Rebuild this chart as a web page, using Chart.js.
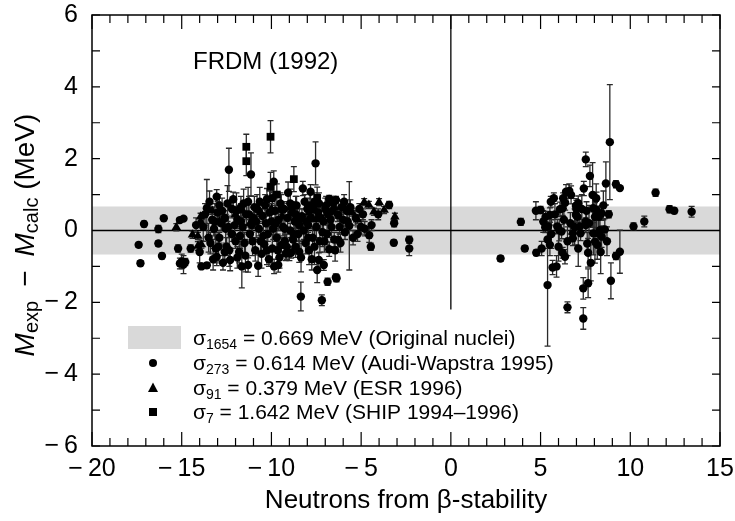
<!DOCTYPE html>
<html>
<head>
<meta charset="utf-8">
<script src="https://cdn.jsdelivr.net/npm/chart.js@4"></script>
<style>
  body { margin: 0; background: #fff; }
</style>
</head>
<body>
<canvas id="myChart" width="735" height="521"></canvas>
<script>
// [neutrons from beta-stability, Mexp - Mcalc (MeV), error]
var awPoints = [
  [-17.1, 0.18, 0.08], [-17.4, -0.40, 0.07], [-17.3, -0.91, 0.07], [-16.0, 0.34, 0.06], [-16.3, 0.04, 0.1],
  [-16.3, -0.36, 0.08], [-16.1, -0.71, 0.08], [-15.1, 0.29, 0.06], [-14.9, 0.33, 0.05], [-15.2, -0.5, 0.1],
  [-15.0, -0.86, 0.2], [-14.9, -0.95, 0.25], [-15.1, -0.92, 0.15], [-14.8, -0.88, 0.1], [-14.5, -0.5, 0.1],
  [-13.9, -1.0, 0.06], [-13.6, -0.97, 0.06], [-13.6, 0.62, 0.8], [-13.3, 0.3, 0.35], [-13.2, 0.05, 0.2],
  [-13.05, 0.94, 0.2], [-13.05, -0.73, 0.25], [-13.0, 0.5, 0.3], [-12.9, -0.2, 0.15], [-12.8, 0.2, 0.2],
  [-12.7, -0.9, 0.2], [-12.6, 0.35, 0.2], [-12.5, -0.45, 0.25], [-12.4, 0.1, 0.3], [-12.37, 1.69, 0.6],
  [-12.3, -0.82, 0.3], [-12.2, 0.6, 0.25], [-12.13, 0.87, 0.2], [-12.0, -0.3, 0.2], [-11.9, 0.3, 0.2],
  [-11.8, -0.6, 0.3], [-11.7, 0.65, 0.3], [-11.65, -1.0, 0.6], [-11.6, 0.1, 0.2], [-11.5, -0.35, 0.3],
  [-11.4, 0.45, 0.3], [-11.3, -0.96, 0.2], [-11.3, 0.8, 0.4], [-11.2, -0.1, 0.25], [-11.14, 1.56, 0.6],
  [-11.0, 0.35, 0.3], [-10.9, -0.55, 0.3], [-10.8, 0.6, 0.4], [-10.74, -0.98, 0.3], [-10.7, 0.05, 0.2],
  [-10.6, -0.3, 0.3], [-10.5, 0.4, 0.2], [-10.4, -0.38, 0.3], [-10.35, 0.7, 0.3], [-10.25, 0.87, 0.3],
  [-10.2, -0.1, 0.2], [-10.14, -0.8, 0.2], [-10.0, 0.25, 0.25], [-9.95, -0.5, 0.4], [-9.85, -1.0, 0.2],
  [-9.87, 1.36, 0.3], [-9.8, 0.55, 0.5], [-9.7, -0.2, 0.3], [-9.62, -0.96, 0.2], [-9.6, 0.3, 0.3],
  [-9.5, 0.75, 0.3], [-9.45, -0.4, 0.2], [-9.35, 0.1, 0.25], [-9.3, 0.6, 0.2], [-9.2, -0.64, 0.2],
  [-9.1, 0.35, 0.3], [-9.07, 1.05, 0.3], [-9.0, -0.64, 0.2], [-8.95, 0.0, 0.2], [-8.9, -0.62, 0.15],
  [-8.85, 0.5, 0.3], [-8.8, -0.25, 0.3], [-8.7, 0.25, 0.2], [-8.6, 0.7, 0.25], [-8.5, -0.1, 0.2],
  [-8.45, -0.59, 0.3], [-8.36, -1.84, 0.4], [-8.3, 0.4, 0.2], [-8.25, 1.17, 0.2], [-8.2, 0.0, 0.25],
  [-8.1, -0.35, 0.3], [-8.0, 0.6, 0.3], [-7.95, 0.15, 0.2], [-7.9, -0.55, 0.4], [-7.82, 1.08, 0.2],
  [-7.8, 0.35, 0.3], [-7.7, -0.2, 0.3], [-7.6, 0.8, 0.25], [-7.54, 1.87, 0.6], [-7.5, 0.1, 0.3],
  [-7.45, -1.1, 0.35], [-7.4, 0.5, 0.2], [-7.36, -0.82, 0.2], [-7.3, -0.3, 0.3], [-7.19, -1.94, 0.15],
  [-7.1, 0.25, 0.3], [-7.08, -0.96, 0.15], [-7.0, 0.6, 0.3], [-6.9, -0.1, 0.3], [-6.87, -1.43, 0.1],
  [-6.78, 0.88, 0.1], [-6.78, -0.52, 0.2], [-6.7, 0.3, 0.2], [-6.6, 0.55, 0.2], [-6.5, -0.25, 0.2],
  [-6.41, -1.31, 0.1], [-6.37, -1.33, 0.1], [-6.3, 0.45, 0.2], [-6.28, -0.26, 0.2], [-6.2, 0.1, 0.2],
  [-6.1, 0.65, 0.2], [-6.0, 0.3, 0.2], [-5.9, -0.05, 0.2], [-5.8, 0.55, 0.2], [-5.66, 0.13, 1.23],
  [-5.45, -0.2, 0.2], [-5.3, 0.35, 0.2], [-5.1, 0.6, 0.15], [-5.0, 0.1, 0.2], [-4.9, 0.45, 0.15],
  [-4.55, -0.13, 0.2], [-4.46, -0.45, 0.1], [-4.42, 0.15, 0.15], [-4.05, 0.45, 0.15], [-3.44, 0.71, 0.1],
  [-3.18, -0.34, 0.08], [-3.16, 0.2, 0.1], [-2.32, -0.26, 0.1], [-2.32, -0.5, 0.2],
  [-13.8, 0.1, 0.4], [-13.4, -0.35, 0.3], [-13.1, -0.5, 0.4], [-12.9, 0.7, 0.3], [-12.6, -0.6, 0.2],
  [-12.2, -0.1, 0.2], [-11.9, -0.75, 0.3], [-11.7, 0.25, 0.5], [-11.1, 0.15, 0.2], [-10.95, 0.65, 0.3],
  [-10.55, -0.65, 0.4], [-10.3, 0.2, 0.3], [-9.9, 0.05, 0.3], [-9.55, -0.75, 0.3], [-9.25, -0.3, 0.2],
  [-8.65, -0.45, 0.3], [-8.55, 0.35, 0.3], [-8.15, 0.8, 0.2], [-7.75, -0.8, 0.3], [-7.65, 0.6, 0.25],
  [-7.25, 0.35, 0.3], [-7.05, -0.3, 0.3], [-6.95, 0.7, 0.25], [-6.65, 0.1, 0.3], [-6.4, 0.85, 0.1],
  [-14.2, 0.15, 0.2], [-14.0, -0.6, 0.3], [-13.7, 0.45, 0.3], [-13.5, -0.2, 0.4], [-13.45, 0.8, 0.3],
  [-13.25, -0.8, 0.3], [-13.15, 0.25, 0.5], [-12.95, -0.45, 0.4], [-12.75, 0.55, 0.35], [-12.55, 0.05, 0.4],
  [-12.45, 0.75, 0.5], [-12.35, -0.55, 0.45], [-12.05, 0.15, 0.4], [-11.95, 0.55, 0.5], [-11.75, -0.15, 0.35],
  [-11.55, 0.75, 0.4], [-11.45, -0.7, 0.45], [-11.25, 0.45, 0.5], [-11.05, -0.3, 0.4], [-10.85, 0.25, 0.45],
  [-10.65, 0.8, 0.4], [-10.45, -0.15, 0.5], [-10.25, -0.55, 0.4], [-10.1, 0.5, 0.6], [-9.95, 0.9, 0.4],
  [-9.75, 0.2, 0.5], [-9.65, -0.55, 0.45], [-9.45, 0.6, 0.4], [-9.25, 0.05, 0.5], [-9.15, -0.45, 0.35],
  [-8.95, 0.75, 0.4], [-8.75, -0.1, 0.4], [-8.65, 0.45, 0.5], [-8.45, 0.15, 0.45], [-8.35, -0.75, 0.4],
  [-8.05, 0.25, 0.5], [-7.95, -0.2, 0.4], [-7.85, 0.7, 0.4], [-7.6, -0.45, 0.5], [-7.35, 0.75, 0.3],
  [-7.15, -0.05, 0.4], [-6.85, 0.45, 0.3], [-6.55, 0.75, 0.2], [-6.45, -0.55, 0.3], [-6.15, -0.35, 0.25],
  [-5.95, 0.8, 0.2], [-5.75, 0.25, 0.2], [-5.6, 0.65, 0.2], [-5.2, -0.1, 0.2], [-4.8, 0.05, 0.2],
  [2.77, -0.78, 0.08], [3.9, 0.24, 0.1], [4.12, -0.5, 0.08], [4.74, 0.55, 0.25], [5.0, 0.57, 0.1],
  [4.76, -0.62, 0.08], [5.06, -0.5, 0.2], [5.28, 0.38, 0.15], [5.52, 0.43, 0.2], [5.57, 0.8, 0.15],
  [5.74, 0.9, 0.15], [5.26, 0.09, 0.15], [5.42, 0.11, 0.1], [5.39, -0.25, 0.25], [5.52, -0.4, 0.3],
  [5.39, -1.52, 1.7], [5.67, -1.03, 0.2], [5.89, -1.0, 0.3], [5.93, 0.11, 0.2], [6.04, 0.01, 0.3],
  [6.17, -0.03, 0.2], [6.08, 0.59, 0.2], [6.23, 0.62, 0.2], [6.23, -0.62, 0.15], [6.36, -0.73, 0.2],
  [6.37, 0.77, 0.2], [6.26, 0.9, 0.15], [6.42, 1.08, 0.2], [6.6, 1.1, 0.2], [6.7, 0.99, 0.25],
  [6.66, 0.2, 0.3], [6.8, -0.08, 0.2], [6.8, -0.22, 0.2], [6.97, 0.69, 0.2], [7.0, 0.59, 0.25],
  [7.1, 0.76, 0.2], [6.97, 0.43, 0.2], [7.06, 0.38, 0.15], [7.19, 0.11, 0.2], [7.23, -0.08, 0.2],
  [7.41, 1.17, 0.2], [7.52, 1.98, 0.2], [7.56, 0.55, 0.25], [7.52, 0.25, 0.3], [7.52, 0.15, 0.2],
  [7.75, 1.52, 0.3], [7.9, 0.99, 0.9], [7.94, 0.62, 0.4], [8.03, 0.38, 0.4], [7.94, -0.08, 0.6],
  [8.03, -0.31, 0.6], [8.16, -0.4, 0.4], [8.12, 0.57, 0.5], [8.25, 0.38, 0.3], [8.4, 0.48, 0.2],
  [8.31, 0.01, 0.5], [8.4, -0.17, 0.3], [8.21, -0.08, 0.4], [8.64, 1.31, 0.6], [8.86, 2.46, 1.6],
  [8.8, 0.45, 0.1], [8.58, 0.03, 0.3], [7.65, -0.62, 0.4], [7.6, -0.36, 0.3], [7.65, -1.47, 0.4],
  [7.38, -1.61, 0.3], [7.38, -2.45, 0.3], [6.5, -2.14, 0.15], [8.92, -1.4, 0.5], [9.2, -0.71, 0.1],
  [9.42, -0.59, 0.6], [9.2, 1.29, 0.1], [9.42, 1.18, 0.05], [10.18, 0.11, 0.1], [10.78, 0.25, 0.15],
  [11.41, 1.05, 0.1], [12.19, 0.59, 0.1], [12.45, 0.55, 0.08], [13.42, 0.52, 0.15],
  [5.15, 0.25, 0.3], [5.6, -0.1, 0.4], [5.8, 0.45, 0.3], [6.0, -0.45, 0.4], [6.3, 0.3, 0.3],
  [6.5, -0.3, 0.4], [6.9, 0.1, 0.5], [7.1, -0.5, 0.5], [7.3, 0.6, 0.4], [7.7, 0.2, 0.5],
  [7.8, -0.9, 0.5], [8.1, 0.9, 0.4], [8.35, -0.6, 0.6], [8.5, 0.7, 0.4], [8.7, -0.3, 0.4]
];
var esrPoints = [
  [-15.3, 0.09, 0.1], [-14.4, -0.12, 0.1], [-14.1, -0.15, 0.1], [-13.95, 0.38, 0.1], [-13.95, 0.25, 0.1],
  [-14.1, -0.43, 0.12], [-13.9, -0.39, 0.1], [-13.3, 0.55, 0.1], [-12.9, 0.25, 0.1], [-12.0, 0.45, 0.1],
  [-11.6, 0.55, 0.15], [-11.2, 0.2, 0.1], [-10.6, 0.5, 0.1], [-10.0, 0.6, 0.15], [-9.4, 0.4, 0.1],
  [-8.9, 0.65, 0.1], [-8.4, 0.3, 0.1], [-7.9, 0.5, 0.1], [-7.5, 0.3, 0.1], [-6.5, 0.65, 0.1],
  [-6.2, 0.4, 0.1], [-5.9, 0.6, 0.1], [-5.5, 0.5, 0.1], [-5.2, 0.3, 0.1], [-4.83, 0.79, 0.1],
  [-4.57, 0.71, 0.1], [-4.29, 0.52, 0.1], [-4.0, 0.79, 0.1], [-3.72, 0.57, 0.1], [-3.12, 0.38, 0.1]
];
var shipPoints = [
  [-11.4, 2.33, 0.35], [-11.4, 1.93, 0.4], [-10.05, 2.61, 0.45], [-8.75, 1.43, 0.35],
  [-7.45, 0.91, 0.3], [-10.05, 1.22, 0.4], [-9.7, 1.0, 0.3]
];
var sigmaBand = 0.669;
var xTicks = [-20, -15, -10, -5, 0, 5, 10, 15];
var yTicks = [-6, -4, -2, 0, 2, 4, 6];
var legendLabels = [
  ['1654', ' = 0.669 MeV (Original nuclei)'],
  ['273', ' = 0.614 MeV (Audi-Wapstra 1995)'],
  ['91', ' = 0.379 MeV (ESR 1996)'],
  ['7', ' = 1.642 MeV (SHIP 1994\u20131996)']
];

function toXY(list) {
  return list.map(function(p) { return {x: p[0], y: p[1], e: p[2]}; });
}
function fmt(v) {
  return v < 0 ? '\u2212\u2009' + Math.abs(v) : String(v);
}

var FONT = '"Liberation Sans", Arial, Helvetica, sans-serif';

var framePlugin = {
  id: 'frame',
  beforeDatasetsDraw: function(chart) {
    var c = chart.ctx, a = chart.chartArea, xs = chart.scales.x, ys = chart.scales.y;
    c.save();
    // gray sigma band
    c.fillStyle = '#d9d9d9';
    var yt = ys.getPixelForValue(sigmaBand), yb = ys.getPixelForValue(-sigmaBand);
    c.fillRect(a.left, yt, a.right - a.left, yb - yt);
    // zero lines
    c.strokeStyle = '#000';
    c.lineWidth = 1.3;
    c.beginPath();
    var y0 = ys.getPixelForValue(0);
    c.moveTo(a.left, y0); c.lineTo(a.right, y0);
    var x0 = xs.getPixelForValue(0);
    c.moveTo(x0, a.top); c.lineTo(x0, ys.getPixelForValue(-2.2));
    c.stroke();
    // error bars
    c.strokeStyle = '#2a2a2a';
    c.lineWidth = 1.3;
    chart.data.datasets.forEach(function(ds) {
      ds.data.forEach(function(p) {
        var px = xs.getPixelForValue(p.x);
        var ph = ys.getPixelForValue(p.y + p.e), pl = ys.getPixelForValue(p.y - p.e);
        c.beginPath();
        c.moveTo(px, ph); c.lineTo(px, pl);
        c.moveTo(px - 3, ph); c.lineTo(px + 3, ph);
        c.moveTo(px - 3, pl); c.lineTo(px + 3, pl);
        c.stroke();
      });
    });
    c.restore();
  },
  afterDraw: function(chart) {
    var c = chart.ctx, a = chart.chartArea, xs = chart.scales.x, ys = chart.scales.y;
    c.save();
    c.strokeStyle = '#000';
    c.lineWidth = 1.5;
    c.strokeRect(a.left, a.top, a.right - a.left, a.bottom - a.top);
    c.lineWidth = 1.2;
    c.beginPath();
    for (var i = -20; i <= 15; i++) {
      var px = xs.getPixelForValue(i);
      var len = (i % 5 === 0) ? 14 : 8;
      c.moveTo(px, a.bottom); c.lineTo(px, a.bottom - len);
      c.moveTo(px, a.top); c.lineTo(px, a.top + len);
    }
    for (var j = -6; j <= 6; j++) {
      var py = ys.getPixelForValue(j);
      c.moveTo(a.left, py); c.lineTo(a.left + 8, py);
      c.moveTo(a.right, py); c.lineTo(a.right - 8, py);
    }
    c.stroke();

    // model label
    c.fillStyle = '#000';
    c.textBaseline = 'middle';
    c.textAlign = 'left';
    c.font = '24px ' + FONT;
    c.fillText('FRDM (1992)', 193, 62);

    // legend
    c.fillStyle = '#d9d9d9';
    c.fillRect(128, 326, 53, 23);
    c.fillStyle = '#000';
    c.beginPath(); c.arc(153, 363, 4, 0, Math.PI * 2); c.fill();
    c.beginPath(); c.moveTo(153, 382.5); c.lineTo(158, 392); c.lineTo(148, 392); c.closePath(); c.fill();
    c.fillRect(149, 408, 8, 8);
    var rows = [339, 364, 389, 413];
    legendLabels.forEach(function(l, k) {
      var x = 193;
      c.font = '21px ' + FONT;
      c.fillText('\u03c3', x, rows[k]);
      x += c.measureText('\u03c3').width;
      c.font = '14px ' + FONT;
      c.fillText(l[0], x, rows[k] + 6);
      x += c.measureText(l[0]).width;
      c.font = '21px ' + FONT;
      c.fillText(l[1], x, rows[k]);
    });

    // y axis title
    var parts = [
      ['M', 'italic 28px ', 0], ['exp', '20px ', 6], ['\u2002\u2212\u2002', '28px ', 0],
      ['M', 'italic 28px ', 0], ['calc', '20px ', 6], [' (MeV)', '28px ', 0]
    ];
    var total = 0;
    parts.forEach(function(p) { c.font = p[1] + FONT; total += c.measureText(p[0]).width; });
    c.translate(26, 235);
    c.rotate(-Math.PI / 2);
    var tx = -total / 2;
    parts.forEach(function(p) {
      c.font = p[1] + FONT;
      c.fillText(p[0], tx, p[2]);
      tx += c.measureText(p[0]).width;
    });
    c.restore();
  }
};

var ctx = document.getElementById('myChart');
var myChart = new Chart(ctx, {
  type: 'scatter',
  data: {
    datasets: [{
      data: toXY(awPoints),
      pointStyle: 'circle',
      pointRadius: 4.2,
      backgroundColor: '#000',
      borderWidth: 0
    }, {
      data: toXY(esrPoints),
      pointStyle: 'triangle',
      pointRadius: 5.5,
      backgroundColor: '#000',
      borderWidth: 0
    }, {
      data: toXY(shipPoints),
      pointStyle: 'rect',
      pointRadius: 5.5,
      backgroundColor: '#000',
      borderWidth: 0
    }]
  },
  options: {
    responsive: false,
    animation: false,
    layout: { padding: 0 },
    plugins: { legend: { display: false }, tooltip: { enabled: false } },
    scales: {
      x: {
        min: -20, max: 15,
        grid: { display: false, drawTicks: false },
        border: { display: false },
        afterBuildTicks: function(s) { s.ticks = xTicks.map(function(v) { return {value: v}; }); },
        afterFit: function(s) { s.height = 75; s.paddingLeft = 0; s.paddingRight = 15; },
        ticks: {
          padding: 8, color: '#000', maxRotation: 0,
          font: { family: FONT, size: 25 },
          callback: function(v) { return fmt(v); }
        },
        title: {
          display: true, text: 'Neutrons from \u03b2-stability', color: '#000',
          font: { family: FONT, size: 26 }, padding: { top: 0, bottom: 5 }
        }
      },
      y: {
        min: -6, max: 6,
        grid: { display: false, drawTicks: false },
        border: { display: false },
        afterBuildTicks: function(s) { s.ticks = yTicks.map(function(v) { return {value: v}; }); },
        afterFit: function(s) { s.width = 92; s.paddingTop = 15; s.paddingBottom = 0; },
        ticks: {
          padding: 14, color: '#000',
          font: { family: FONT, size: 25 },
          callback: function(v) { return fmt(v); }
        }
      }
    }
  },
  plugins: [framePlugin]
});
</script>
</body>
</html>
